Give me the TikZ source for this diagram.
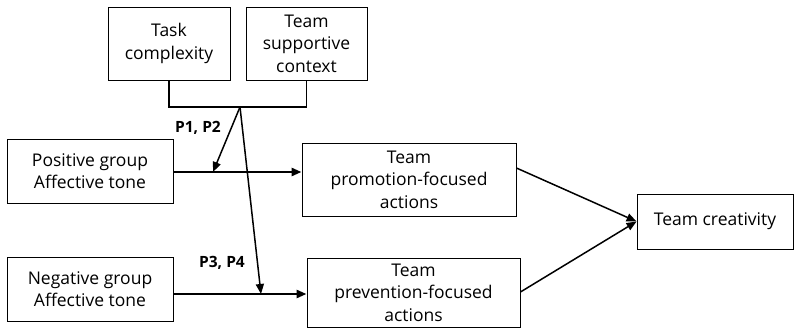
\documentclass[tikz,border=0pt]{standalone}
\usepackage{fontspec}
\setmainfont{Open Sans}
\usetikzlibrary{arrows.meta}
\begin{document}
\begin{tikzpicture}[x=1pt,y=-1pt,
  box/.style={draw, line width=0.9pt, inner sep=0pt, font=\fontsize{17.5}{22.5}\selectfont, align=center},
  thin/.style={line width=1.5pt},
  thick/.style={line width=2.5pt},
  tip/.style={-{Triangle[length=10,width=8]}},
  lab/.style={font=\bfseries\fontsize{15.5}{17}\selectfont}]
\useasboundingbox (0,0) rectangle (794,328);
\node[box, minimum width=122, minimum height=73] (task) at (169,43.5) {Task\\complexity};
\node[box, minimum width=121, minimum height=73] (supp) at (306.5,43.5) {Team\\supportive\\context};
\node[box, minimum width=166, minimum height=64] (pos) at (90,171) {Positive group\\Affective tone};
\node[box, minimum width=166, minimum height=64] (neg) at (90,289) {Negative group\\Affective tone};
\node[box, minimum width=214, minimum height=73] (prom) at (409,179.5) {Team\\promotion-focused\\actions};
\node[box, minimum width=213, minimum height=69] (prev) at (413.5,292.5) {Team\\prevention-focused\\actions};
\node[box, minimum width=156, minimum height=55] (crea) at (715,221.5) {Team creativity};
\coordinate (v) at (240,107);
\coordinate (m1) at (213,172);
\coordinate (m2) at (261,294);
\draw[thin] (task.south) |- (v) -| (supp.south);
\draw[thick, tip] (pos.east |- m1) -- (prom.west |- m1);
\draw[thick, tip] (neg.east |- m2) -- (prev.west |- m2);
\draw[thin, tip] (v) -- (m1);
\draw[thin, tip] (v) -- (m2);
\draw[thin, tip] (prom.east |- 0,168) -- (crea.west);
\draw[thin, tip] (prev.east |- 0,292) -- (crea.west);
\node[lab] (p12) at (198,128) {P1, P2};
\node[lab] (p34) at (222,263) {P3, P4};
\end{tikzpicture}
\end{document}
